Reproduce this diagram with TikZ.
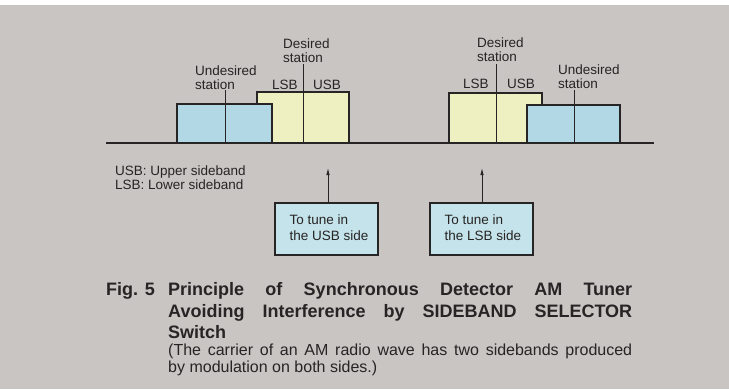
\documentclass[tikz,border=0pt]{standalone}
\usepackage{fontspec}
\setmainfont{Liberation Sans}
\usetikzlibrary{arrows.meta}
\definecolor{bg}{HTML}{C9C5C3}
\definecolor{bandblue}{HTML}{B2D7E5}
\definecolor{bandyellow}{HTML}{EEF0C2}
\definecolor{boxblue}{HTML}{C5E3EA}
\definecolor{ink}{HTML}{262424}
\begin{document}
\begin{tikzpicture}[x=1pt,y=-1pt,
  lbl/.style={font=\fontsize{13.5}{16}\selectfont, text=ink, inner sep=0pt, anchor=base west},
  band/.style={draw=ink, line width=1.1pt},
  marker/.style={draw=ink, line width=0.8pt},
  tbox/.style={draw=ink, fill=boxblue, line width=1.1pt, minimum width=103pt, minimum height=52pt, inner sep=0pt},
  boxtxt/.style={font=\fontsize{13.5}{16}\selectfont, text=ink, inner sep=0pt, align=left, anchor=west},
  tunearrow/.style={draw=ink, line width=0.8pt, -{Latex[length=7pt,width=3.5pt]}},
  capb/.style={font=\fontsize{18}{21}\selectfont\bfseries, text=ink, inner sep=0pt, anchor=base west},
  caps/.style={font=\fontsize{16}{18}\selectfont, text=ink, inner sep=0pt, anchor=base west}]
\useasboundingbox (0,0) rectangle (729,389);
\fill[white] (0,0) rectangle (729,389);
\fill[bg] (0,4.5) rectangle (729,389);

% spectrum bands
\filldraw[band, fill=bandyellow] (257,143) rectangle (349,92);
\filldraw[band, fill=bandblue] (177,143) rectangle (272,104);
\filldraw[band, fill=bandyellow] (449,143) rectangle (542,93);
\filldraw[band, fill=bandblue] (527,143) rectangle (620,105);

% frequency axis
\coordinate (axL) at (106,143);
\coordinate (axR) at (654,143);
\draw[draw=ink, line width=1.4pt] (axL) -- (axR);

% left group labels
\node[lbl] (ud1a) at (195,75) {Undesired};
\node[lbl] (ud1b) at (195,89) {station};
\node[lbl] (ds1a) at (283,48) {Desired};
\node[lbl] (ds1b) at (283,62) {station};
\node[lbl] (lsb1) at (272,89) {LSB};
\node[lbl] (usb1) at (313,89) {USB};

% right group labels
\node[lbl] (ds2a) at (477,47) {Desired};
\node[lbl] (ds2b) at (477,61) {station};
\node[lbl] (lsb2) at (463,88) {LSB};
\node[lbl] (usb2) at (507,88) {USB};
\node[lbl] (ud2a) at (558,74) {Undesired};
\node[lbl] (ud2b) at (558,88) {station};

% station markers
\coordinate (m1t) at (225,90); \coordinate (m1b) at (225,143);
\coordinate (m2t) at (303,64); \coordinate (m2b) at (303,143);
\coordinate (m3t) at (496,64); \coordinate (m3b) at (496,143);
\coordinate (m4t) at (574,90); \coordinate (m4b) at (574,143);
\draw[marker] (m1t) -- (m1b);
\draw[marker] (m2t) -- (m2b);
\draw[marker] (m3t) -- (m3b);
\draw[marker] (m4t) -- (m4b);

% legend
\node[lbl] (leg1) at (115,175) {USB: Upper sideband};
\node[lbl] (leg2) at (115,189) {LSB: Lower sideband};

% tuning boxes
\node[tbox] (box1) at (326.5,229) {};
\node[boxtxt] (box1t) at ([xshift=15pt,yshift=1pt]box1.west) {To tune in\\the USB side};
\node[tbox] (box2) at (481.5,229) {};
\node[boxtxt] (box2t) at ([xshift=15pt,yshift=1pt]box2.west) {To tune in\\the LSB side};
\coordinate (t1) at (328,168);
\coordinate (t2) at (482,168);
\draw[tunearrow] (box1.north -| t1) -- (t1);
\draw[tunearrow] (box2.north -| t2) -- (t2);

% caption
\node[capb] (fig) at (106,295) {Fig. 5};
\node[capb] (cap1) at (168,295) {\makebox[464pt][s]{Principle of Synchronous Detector AM Tuner}};
\node[capb] (cap2) at (168,317) {\makebox[464pt][s]{Avoiding Interference by SIDEBAND SELECTOR}};
\node[capb] (cap3) at (168,338) {Switch};
\node[caps] (cap4) at (168,355) {\makebox[464pt][s]{(The carrier of an AM radio wave has two sidebands produced}};
\node[caps] (cap5) at (168,372) {by modulation on both sides.)};
\end{tikzpicture}
\end{document}
